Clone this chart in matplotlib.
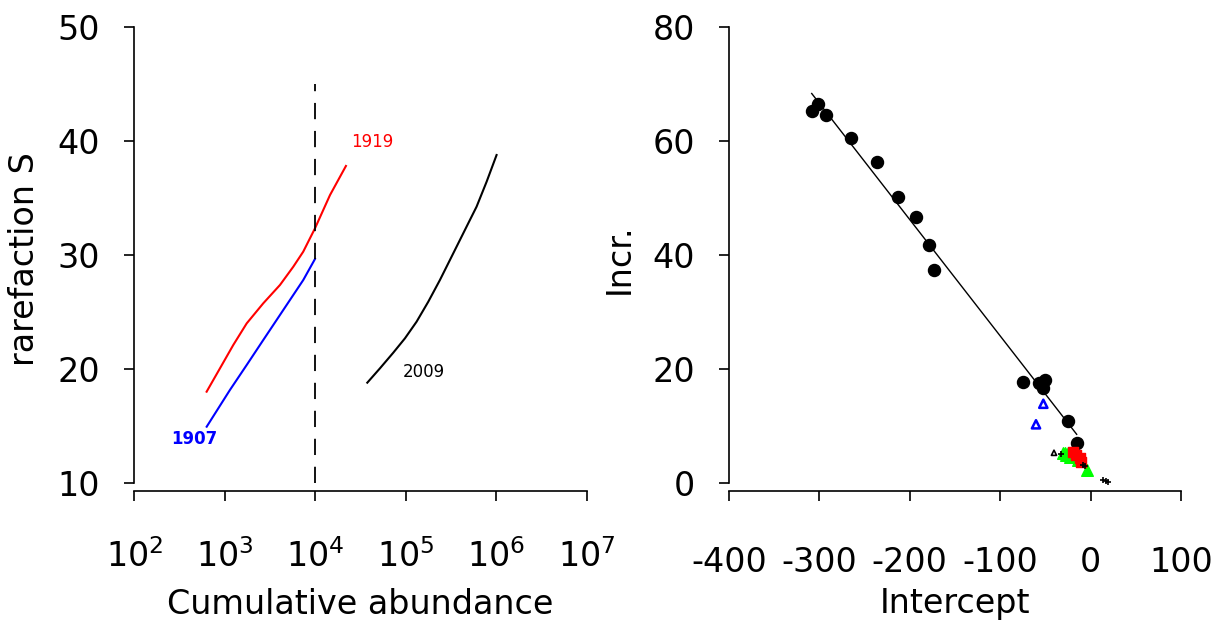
import numpy as np
import matplotlib
matplotlib.use("Agg")
import matplotlib.pyplot as plt
from matplotlib.ticker import FixedLocator, LogFormatterMathtext

plt.rcParams['font.family'] = ['DejaVu Sans']
plt.rcParams['axes.unicode_minus'] = False

# left panel: rarefaction curves
abund_1919 = [630, 885, 1242, 1746, 2661, 4074, 5715, 7362, 9931, 14555, 21830]
rare_1919 = [18.01, 20.06, 22.11, 24.0, 25.76, 27.37, 28.97, 30.29, 32.34, 35.26, 37.81]

abund_1907 = [631, 1140, 1746, 2661, 3741, 5248, 7362, 9931]
rare_1907 = [14.94, 18.16, 20.35, 22.54, 24.3, 26.05, 27.8, 29.65]

abund_2009 = [37600, 51900, 72800, 98000, 131800, 177400, 238800, 307800,
              397200, 490700, 606700, 783400, 1009000]
rare_2009 = [18.8, 20.06, 21.43, 22.69, 24.15, 25.9, 27.81, 29.56,
             31.32, 32.78, 34.24, 36.43, 38.77]

cutoff = 1e4

# right panel: intercept vs increment
dots_x = [-308.5, -301.9, -293.0, -265.0, -236.3, -212.7, -193.1, -179.1, -172.9,
          -74.4, -56.7, -54.1, -50.4, -52.3, -24.7, -15.4]
dots_y = [65.2, 66.5, 64.5, 60.6, 56.4, 50.1, 46.6, 41.8, 37.4,
          17.8, 17.5, 17.5, 18.0, 16.6, 10.8, 7.1]
fit_a, fit_b = 5.4, -0.204

blue_x = [-52.3, -60.4]
blue_y = [13.9, 10.3]

green_x = [-30.5, -28.7, -26.9, -25.0, -23.1, -21.3, -17.6, -13.9, -3.5]
green_y = [5.2, 5.3, 4.9, 5.2, 4.6, 5.1, 4.9, 4.0, 2.3]

red_x = [-19.5, -15.8, -12.1, -10.4]
red_y = [5.5, 4.9, 4.3, 3.7]

plus_x = [-32.4, -8.4, -5.8, 14.1, 17.0, 19.6]
plus_y = [5.1, 3.2, 2.9, 0.6, 0.4, 0.2]

tri_x = [-40.5]
tri_y = [5.3]

W, H = 1222, 623
fig = plt.figure(figsize=(W / 100, H / 100), dpi=100)


def r_axes(ax, ymin, ymax):
    for s in ['top', 'right']:
        ax.spines[s].set_visible(False)
    ax.spines['left'].set_bounds(ymin, ymax)
    ax.tick_params(axis='both', labelsize=24, length=7.5, width=1.2)
    ax.tick_params(axis='y', pad=17)
    ax.spines['left'].set_linewidth(1.2)
    ax.spines['bottom'].set_linewidth(1.2)


# ----- left
ax1 = fig.add_axes([134.3 / W, (H - 491) / H, (586.7 - 134.3) / W, (491 - 27) / H])
ax1.set_xscale('log')
ax1.set_xlim(1e2, 1e7)
ax1.set_ylim(10 - 8 / 11.4, 50)
r_axes(ax1, 10, 50)
ax1.spines['bottom'].set_bounds(1e2, 1e7)
ax1.xaxis.set_major_locator(FixedLocator([1e2, 1e3, 1e4, 1e5, 1e6, 1e7]))
ax1.xaxis.set_minor_locator(FixedLocator([]))
ax1.xaxis.set_major_formatter(LogFormatterMathtext())
ax1.set_yticks([10, 20, 30, 40, 50])
ax1.tick_params(axis='x', pad=27)

ax1.plot(abund_1919, rare_1919, color='red', lw=1.5)
ax1.plot(abund_1907, rare_1907, color='blue', lw=1.5)
ax1.plot(abund_2009, rare_2009, color='black', lw=1.5)
ax1.plot([cutoff, cutoff], [10, 45], color='black', lw=1.3, linestyle=(0, (9, 6.5)))

ax1.text(10 ** 4.63, 39.9, '1919', color='red', fontsize=12, ha='center', va='center')
ax1.text(10 ** 2.667, 13.9, '1907', color='blue', fontsize=12, fontweight='bold',
         ha='center', va='center')
ax1.text(10 ** 5.198, 19.76, '2009', color='black', fontsize=12, ha='center', va='center')

ax1.set_xlabel('Cumulative abundance', fontsize=24, labelpad=10)
ax1.set_ylabel('rarefaction S', fontsize=24, labelpad=12)

# ----- right
ax2 = fig.add_axes([729 / W, (H - 491) / H, (1181 - 729) / W, (491 - 27) / H])
ax2.set_xlim(-400, 100)
ax2.set_ylim(0 - 8 / 5.7, 80)
r_axes(ax2, 0, 80)
ax2.spines['bottom'].set_bounds(-400, 100)
ax2.set_xticks([-400, -300, -200, -100, 0, 100])
ax2.set_yticks([0, 20, 40, 60, 80])
ax2.tick_params(axis='x', pad=32)

xs = np.array([min(dots_x), max(dots_x)])
ax2.plot(xs, fit_a + fit_b * xs, color='black', lw=1)
ax2.scatter(dots_x, dots_y, s=75, color='black', zorder=3)
ax2.scatter(blue_x, blue_y, s=35, marker='^', facecolors='none', edgecolors='blue',
            linewidths=1.8, zorder=3)
ax2.scatter(green_x, green_y, s=70, marker='^', color='lime', zorder=3)
ax2.scatter(red_x, red_y, s=60, marker='s', color='red', zorder=4)
ax2.scatter(plus_x, plus_y, s=18, marker='+', color='black', linewidths=1.2, zorder=5)
ax2.scatter(tri_x, tri_y, s=14, marker='^', facecolors='none', edgecolors='black',
            linewidths=1.2, zorder=5)

ax2.set_xlabel('Intercept', fontsize=24, labelpad=6)
ax2.set_ylabel('Incr.', fontsize=24, labelpad=12)

fig.savefig('out.png', dpi=100)
